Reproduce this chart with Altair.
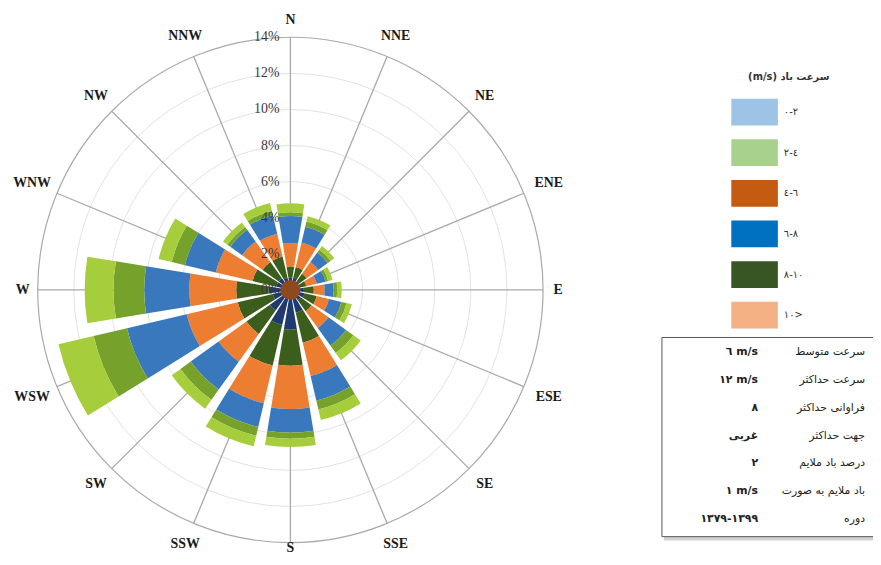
import math
import altair as alt
import pandas as pd

# ---------------- data ----------------
directions = ["N", "NNE", "NE", "ENE", "E", "ESE", "SE", "SSE",
              "S", "SSW", "SW", "WSW", "W", "WNW", "NW", "NNW"]

LRM = "\u200e"
speed_classes = ["٠" + LRM + "-" + LRM + "٢",
                 "٢" + LRM + "-" + LRM + "٤",
                 "٤" + LRM + "-" + LRM + "٦",
                 "٦" + LRM + "-" + LRM + "٨",
                 "٨" + LRM + "-" + LRM + "١٠",
                 "١٠>"]

# percentage of each speed class per direction (N ... NNW)
s_0_2   = [0.7, 0.7, 0.6, 0.5, 0.75, 0.8, 0.7, 1.3, 2.2, 2.0, 1.4, 1.0, 1.2, 0.8, 0.8, 0.7]
s_2_4   = [0.6, 0.6, 0.5, 0.4, 0.55, 0.7, 0.75, 1.7, 2.0, 2.3, 1.6, 2.0, 1.8, 1.35, 1.1, 1.2]
s_4_6   = [1.3, 1.4, 0.8, 0.6, 0.6, 0.7, 1.15, 1.9, 2.4, 2.15, 1.9, 2.9, 2.6, 2.1, 1.4, 1.3]
s_6_8   = [1.5, 0.9, 0.65, 0.5, 0.5, 0.7, 1.2, 1.4, 1.3, 1.35, 1.9, 3.4, 2.5, 1.75, 0.8, 1.05]
s_8_10  = [0.2, 0.3, 0.2, 0.15, 0.2, 0.3, 0.5, 0.5, 0.35, 0.5, 0.7, 1.9, 1.7, 0.75, 0.2, 0.25]
s_10_up = [0.5, 0.3, 0.25, 0.25, 0.25, 0.3, 0.5, 0.6, 0.45, 0.6, 0.6, 2.0, 1.6, 0.75, 0.3, 0.45]
series = [s_0_2, s_2_4, s_4_6, s_6_8, s_8_10, s_10_up]

calm_radius = 0.55         # small centre disc (%)
radial_ticks = [0, 2, 4, 6, 8, 10, 12, 14]

legend_title = "(m/s) سرعت باد"

table_labels = ["سرعت متوسط", "سرعت حداکثر", "فراوانی حداکثر", "جهت حداکثر",
                "درصد باد ملایم", "باد ملایم به صورت", "دوره"]
table_values = ["٦ m/s", "١٢ m/s", "٨", "غربی", "٢", "١ m/s",
                "١٣٧٩" + LRM + "-" + LRM + "١٣٩٩"]

# ---------------- styles ----------------
bar_colors = ["#1f3a6e", "#3b5e1c", "#ed7d31", "#3a78bd", "#76a22c", "#a6cd3c"]
legend_colors = ["#9dc3e6", "#a9d18e", "#c55a11", "#0070c0", "#375623", "#f4b183"]
centre_color = "#8e4a1e"

# ---------------- geometry ----------------
W, H = 873, 549
CX, CY = 293, 290            # page position of the rose centre
R = 255                      # pixels for 14 %
RMAX = 14
K = R / RMAX                 # pixels per percent
HALF = 9.3                   # half angular width of a bar (deg)


def px(page_x):
    return (page_x - CX) / K


def py(page_y):
    return (CY - page_y) / K


xs = alt.Scale(domain=[px(8), px(8 + W)], nice=False, zero=False)
ys = alt.Scale(domain=[py(8 + H), py(8)], nice=False, zero=False)
rs = alt.Scale(type="linear", domain=[0, RMAX], range=[0, R], zero=True, nice=False)
ts = alt.Scale(domain=[0, 360], range=[0, 2 * math.pi], nice=False, zero=False)

X0 = alt.X("cx:Q", scale=xs, axis=None)
Y0 = alt.Y("cy:Q", scale=ys, axis=None)

# ---------------- tables ----------------
rows = []
for i, d in enumerate(directions):
    ang = i * 22.5
    base = 0.0
    for c, vals in zip(speed_classes, series):
        v = vals[i]
        rows.append(dict(dir=d, cls=c, r0=base, r1=base + v,
                         t0=ang - HALF, t1=ang + HALF, cx=0, cy=0))
        base += v
bars_df = pd.DataFrame(rows)

grid_df = pd.DataFrame(dict(r=radial_ticks[1:-1], t0=0, t1=360, cx=0, cy=0, r0=0))
outer_df = pd.DataFrame(dict(r=[RMAX], t0=[0], t1=[360], cx=[0], cy=[0], r0=[0]))
calm_df = pd.DataFrame(dict(r=[calm_radius], r0=[0], t0=[0], t1=[360], cx=[0], cy=[0]))

spoke_df = pd.DataFrame(dict(
    cx=[0.0] * 16, cy=[0.0] * 16,
    x2=[RMAX * math.sin(math.radians(i * 22.5)) for i in range(16)],
    y2=[RMAX * math.cos(math.radians(i * 22.5)) for i in range(16)],
))

lab_rows = []
lowest = py(550)   # keep the bottom label inside the page
for i, d in enumerate(directions):
    a = math.radians(i * 22.5)
    w = 10.5 * len(d)
    rp = 265 + (w / 2) * abs(math.sin(a)) + 7 * abs(math.cos(a))
    lab_rows.append(dict(text=d, cx=rp / K * math.sin(a),
                         cy=max(rp / K * math.cos(a), lowest)))
dirlab_df = pd.DataFrame(lab_rows)

tick_df = pd.DataFrame(dict(text=[f"{v}%" for v in radial_ticks],
                            cx=[px(282)] * len(radial_ticks),
                            cy=radial_ticks))

# legend (drawn by hand to keep the reference's own swatch colours)
leg_rows = []
for i, (c, col) in enumerate(zip(speed_classes, legend_colors)):
    top = 97 + 41 * i
    leg_rows.append(dict(cls=c, col=col, cx=px(738), x2=px(785),
                         cy=py(top), y2=py(top + 27),
                         tx=px(791), ty=py(top + 13.5)))
leg_df = pd.DataFrame(leg_rows)
leg_title_df = pd.DataFrame(dict(text=[legend_title], cx=[px(796)], cy=[py(75)]))

tab_rows = []
for i, (lab, val) in enumerate(zip(table_labels, table_values)):
    yy = py(353 + 28 * i)
    tab_rows.append(dict(lab=lab, val=val, cy=yy, lx=px(873), vx=px(765)))
tab_df = pd.DataFrame(tab_rows)
box_df = pd.DataFrame(dict(cx=[px(668)], x2=[px(940)], cy=[py(338)], y2=[py(539)]))
shadow_df = pd.DataFrame(dict(cx=[px(670)], x2=[px(940)], cy=[py(341)], y2=[py(543)]))

# ---------------- layers ----------------
grid = alt.Chart(grid_df).mark_arc(filled=False, stroke="#e2e2e2", strokeWidth=1).encode(
    x=X0, y=Y0,
    theta=alt.Theta("t0:Q", stack=None, scale=ts), theta2="t1:Q",
    radius=alt.Radius("r:Q", scale=rs), radius2="r0:Q")

outer = alt.Chart(outer_df).mark_arc(filled=False, stroke="#a9a9a9", strokeWidth=1.2).encode(
    x=X0, y=Y0,
    theta=alt.Theta("t0:Q", stack=None, scale=ts), theta2="t1:Q",
    radius=alt.Radius("r:Q", scale=rs), radius2="r0:Q")

spokes = alt.Chart(spoke_df).mark_rule(color="#a9a9a9", strokeWidth=1.3).encode(
    x=X0, y=Y0, x2="x2:Q", y2="y2:Q")

bars = alt.Chart(bars_df).mark_arc(stroke=None).encode(
    x=X0, y=Y0,
    theta=alt.Theta("t0:Q", stack=None, scale=ts), theta2="t1:Q",
    radius=alt.Radius("r1:Q", scale=rs), radius2="r0:Q",
    color=alt.Color("cls:N", scale=alt.Scale(domain=speed_classes, range=bar_colors), legend=None))

calm = alt.Chart(calm_df).mark_arc(color=centre_color).encode(
    x=X0, y=Y0,
    theta=alt.Theta("t0:Q", stack=None, scale=ts), theta2="t1:Q",
    radius=alt.Radius("r:Q", scale=rs), radius2="r0:Q")

ticks = alt.Chart(tick_df).mark_text(
    align="right", baseline="middle", font="Liberation Serif", fontSize=14, color="#3a3a3a"
).encode(x=X0, y=Y0, text="text:N")

dirlabs = alt.Chart(dirlab_df).mark_text(
    align="center", baseline="middle", font="Liberation Serif", fontSize=14,
    fontWeight="bold", color="#1a1a1a"
).encode(x=X0, y=Y0, text="text:N")

leg_rect = alt.Chart(leg_df).mark_rect().encode(
    x=X0, x2="x2:Q", y=Y0, y2="y2:Q", color=alt.Color("col:N", scale=None))
leg_text = alt.Chart(leg_df).mark_text(
    align="left", baseline="middle", font="DejaVu Sans", fontSize=10, color="#333333"
).encode(x=alt.X("tx:Q", scale=xs, axis=None), y=alt.Y("ty:Q", scale=ys, axis=None), text="cls:N")
leg_title = alt.Chart(leg_title_df).mark_text(
    align="center", baseline="middle", font="DejaVu Sans", fontSize=10,
    fontWeight="bold", color="#333333"
).encode(x=X0, y=Y0, text="text:N")

shadow = alt.Chart(shadow_df).mark_rect(color="#d0d0d0", clip=True).encode(
    x=X0, x2="x2:Q", y=Y0, y2="y2:Q")
box = alt.Chart(box_df).mark_rect(fill="white", stroke="#555555", strokeWidth=1, clip=True).encode(
    x=X0, x2="x2:Q", y=Y0, y2="y2:Q")
tab_lab = alt.Chart(tab_df).mark_text(
    align="right", baseline="middle", font="DejaVu Sans", fontSize=11, color="#222222"
).encode(x=alt.X("lx:Q", scale=xs, axis=None), y=Y0, text="lab:N")
tab_val = alt.Chart(tab_df).mark_text(
    align="right", baseline="middle", font="DejaVu Sans", fontSize=11, color="#222222",
    fontWeight="bold"
).encode(x=alt.X("vx:Q", scale=xs, axis=None), y=Y0, text="val:N")

chart = alt.layer(
    grid, outer, spokes, bars, calm, ticks, dirlabs,
    leg_rect, leg_text, leg_title, shadow, box, tab_lab, tab_val
).properties(
    width=W, height=H,
    padding={"left": 0, "top": 0, "right": 0, "bottom": 0},
    autosize=alt.AutoSizeParams(type="none"),
).configure_view(stroke=None)

chart.save("out.html", embed_options={"renderer": "svg", "actions": False})
